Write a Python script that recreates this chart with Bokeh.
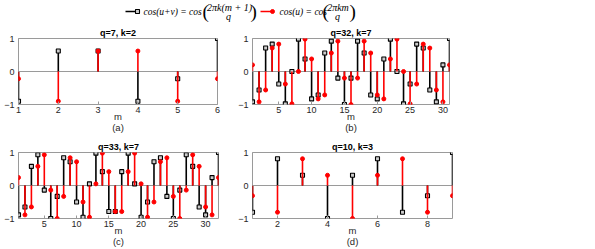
from bokeh.plotting import figure
from bokeh.layouts import column, row
from bokeh.models import Range1d, FixedTicker, Span
from bokeh.embed import file_html
from bokeh.resources import INLINE
from bokeh.core.properties import value

# ---------------- data ----------------
# (a) q=7, k=2
m_a = [1, 2, 3, 4, 5, 6]
uv_a = [-0.90, 0.62, 0.62, -0.90, -0.22, 1.00]
u_a = [-0.22, -0.90, 0.62, 0.62, -0.90, -0.22]
ticks_a = [1, 2, 3, 4, 5, 6]

# (b) q=32, k=7
m_b = [1, 2, 3, 4, 5, 6, 7, 8, 9, 10, 11, 12, 13, 14, 15, 16, 17, 18, 19, 20,
       21, 22, 23, 24, 25, 26, 27, 28, 29, 30, 31]
uv_b = [-0.92, -0.56, 0.71, 0.83, -0.38, -0.98, 0.00, 0.98, 0.38, -0.83, -0.71,
        0.56, 0.92, -0.20, -1.00, -0.20, 0.92, 0.56, -0.71, -0.83, 0.38, 0.98,
        0.00, -0.98, -0.38, 0.83, 0.71, -0.56, -0.92, 0.20, 1.00]
u_b = [0.20, -0.92, -0.56, 0.71, 0.83, -0.38, -0.98, 0.00, 0.98, 0.38, -0.83,
       -0.71, 0.56, 0.92, -0.20, -1.00, -0.20, 0.92, 0.56, -0.71, -0.83, 0.38,
       0.98, 0.00, -0.98, -0.38, 0.83, 0.71, -0.56, -0.92, 0.20]
ticks_b = [5, 10, 15, 20, 25, 30]

# (c) q=33, k=7
m_c = [1, 2, 3, 4, 5, 6, 7, 8, 9, 10, 11, 12, 13, 14, 15, 16, 17, 18, 19, 20,
       21, 22, 23, 24, 25, 26, 27, 28, 29, 30, 31, 32]
uv_c = [-0.89, -0.65, 0.58, 0.93, -0.14, -1.00, -0.33, 0.84, 0.72, -0.50, -0.96,
        0.05, 0.98, 0.42, -0.79, -0.79, 0.42, 0.98, 0.05, -0.96, -0.50, 0.72,
        0.84, -0.33, -1.00, -0.14, 0.93, 0.58, -0.65, -0.89, 0.24, 1.00]
u_c = [0.24, -0.89, -0.65, 0.58, 0.93, -0.14, -1.00, -0.33, 0.84, 0.72, -0.50,
       -0.96, 0.05, 0.98, 0.42, -0.79, -0.79, 0.42, 0.98, 0.05, -0.96, -0.50,
       0.72, 0.84, -0.33, -1.00, -0.14, 0.93, 0.58, -0.65, -0.89, 0.24]
ticks_c = [5, 10, 15, 20, 25, 30]

# (d) q=10, k=3
m_d = [1, 2, 3, 4, 5, 6, 7, 8, 9]
uv_d = [-0.81, 0.81, 0.31, -1.00, 0.31, 0.81, -0.81, -0.31, 1.00]
u_d = [-0.31, -0.81, 0.81, 0.31, -1.00, 0.31, 0.81, -0.81, -0.31]
ticks_d = [2, 4, 6, 8]

y_ticks = [-1, 0, 1]
titles = ["q=7, k=2", "q=32, k=7", "q=33, k=7", "q=10, k=3"]
tags = ["(a)", "(b)", "(c)", "(d)"]
legend_uv = ["cos(u+v) = cos", "2πk(m + 1)", "q"]
legend_u = ["cos(u) = cos", "2πkm", "q"]

GRAY = "#9a9a9a"
TXT = "#262626"
SANS = "Liberation Sans"


def panel(m, uv, u, title, tag, ticks, fw, fh, bl, br, bt, bb):
    p = figure(frame_width=fw, frame_height=fh,
               x_range=Range1d(m[0], m[-1]), y_range=Range1d(-1, 1),
               output_backend="svg", toolbar_location=None,
               min_border_left=bl, min_border_right=br,
               min_border_top=bt, min_border_bottom=bb, title=title)
    p.outline_line_color = GRAY
    p.outline_line_width = 1
    p.grid.visible = False
    t = p.title
    t.align = "center"
    t.text_font = SANS
    t.text_font_size = "9px"
    t.text_font_style = "bold"
    t.text_color = "black"
    t.standoff = 1
    for ax in (p.xaxis[0], p.yaxis[0]):
        ax.axis_line_color = None
        ax.major_tick_in = 3
        ax.major_tick_out = 0
        ax.major_tick_line_color = GRAY
        ax.minor_tick_line_color = None
        ax.major_label_text_font = SANS
        ax.major_label_text_font_size = "9px"
        ax.major_label_text_color = TXT
    p.yaxis.major_label_standoff = 4
    p.xaxis.major_label_standoff = 2
    p.xaxis.ticker = FixedTicker(ticks=ticks)
    p.yaxis.ticker = FixedTicker(ticks=y_ticks)
    p.xaxis.axis_label = "m\n" + tag
    p.xaxis.axis_label_text_font = SANS
    p.xaxis.axis_label_text_font_style = "normal"
    p.xaxis.axis_label_text_font_size = "9.5px"
    p.xaxis.axis_label_text_line_height = 1.0
    p.xaxis.axis_label_text_color = TXT
    p.xaxis.axis_label_standoff = -5
    p.add_layout(Span(location=0, dimension="width", line_color=GRAY,
                      line_width=1, level="underlay"))
    p.segment(x0=m, y0=0, x1=m, y1=uv, line_color="black", line_width=1.6)
    p.scatter(m, uv, marker="square", size=4, line_color="black",
              fill_color="#cccccc", line_width=1.1)
    p.segment(x0=m, y0=0, x1=m, y1=u, line_color="#ff0000", line_width=1.6)
    p.scatter(m, u, marker="circle", size=4, line_color="#ff0000",
              fill_color="#ff0000")
    return p


pa = panel(m_a, uv_a, u_a, titles[0], tags[0], ticks_a, 199, 66, 18, 18, 14, 32)
pb = panel(m_b, uv_b, u_b, titles[1], tags[1], ticks_b, 197, 66, 12, 8, 14, 32)
pc = panel(m_c, uv_c, u_c, titles[2], tags[2], ticks_c, 200, 66, 18, 17, 16, 30)
pd = panel(m_d, uv_d, u_d, titles[3], tags[3], ticks_d, 200, 66, 13, 8, 16, 30)

# ---------------- legend strip ----------------
LW = 460
leg = figure(width=LW, height=24, x_range=Range1d(0, LW), y_range=Range1d(24, 0),
             output_backend="svg", toolbar_location=None, min_border=0,
             x_axis_location=None, y_axis_location=None)
leg.grid.visible = False
leg.outline_line_color = None
SERIF = value("Liberation Serif")

def ltext(x, y, s, size, align="left", italic=True):
    leg.text([x], [y], text=[s], text_font=SERIF,
             text_font_style="italic" if italic else "normal",
             text_font_size=size, text_baseline="middle", text_align=align,
             text_color="black")

leg.line([125, 135], [11, 11], line_color="black", line_width=1.6)
leg.scatter([137], [11], marker="square", size=4, line_color="black",
            fill_color="#cccccc", line_width=1.1)
ltext(143, 11, legend_uv[0], "9.5px")
ltext(202, 11, "(", "19px", italic=False)
ltext(229, 6.5, legend_uv[1], "10px", "center")
ltext(228, 16, legend_uv[2], "10px", "center")
ltext(250, 11, ")", "19px", italic=False)

leg.line([260, 271], [11, 11], line_color="#ff0000", line_width=1.6)
leg.scatter([272], [11], marker="circle", size=4, color="#ff0000")
ltext(279, 11, legend_u[0], "9.5px")
ltext(322, 11, "(", "19px", italic=False)
ltext(337.5, 6.5, legend_u[1], "10px", "center")
ltext(337, 16, legend_u[2], "10px", "center")
ltext(349, 11, ")", "19px", italic=False)

layout = column(leg, row(pa, pb), row(pc, pd))
open("out.html", "w").write(file_html(layout, INLINE))
